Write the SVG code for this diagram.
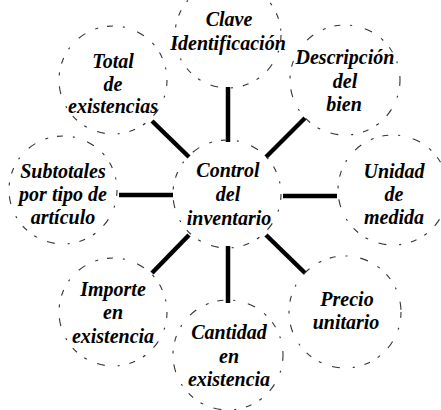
<svg xmlns="http://www.w3.org/2000/svg" width="441" height="410" viewBox="0 0 441 410">
<style>
.n{fill:none;stroke:#333;stroke-width:1.1;stroke-dasharray:6 10 2 13 8 11 3 9}
.t{font-family:"Liberation Serif","Times New Roman",serif;font-style:italic;font-weight:bold;font-size:20px;fill:#000;text-anchor:middle}
.c line{stroke:#000;stroke-width:4.5}
</style>
<rect width="441" height="410" fill="#fff"/>
<g class="c" id="connectors">
<line x1="228" y1="87" x2="228" y2="142"/>
<line x1="305" y1="118" x2="266" y2="157"/>
<line x1="152" y1="121" x2="189" y2="157"/>
<line x1="119" y1="195" x2="173" y2="195"/>
<line x1="283" y1="196" x2="337" y2="196"/>
<line x1="266" y1="235" x2="305" y2="273"/>
<line x1="189" y1="235" x2="152" y2="273"/>
<line x1="228" y1="246" x2="228" y2="303"/>
</g>
<g id="center"><circle class="n" cx="227" cy="194" r="54"/>
<text class="t" x="228" y="177">Control</text><text class="t" x="228" y="201">del</text><text class="t" x="229" y="225">inventario</text></g>
<g id="clave"><circle class="n" cx="228" cy="35" r="53"/>
<text class="t" x="229" y="26">Clave</text><text class="t" x="228" y="50">Identificación</text></g>
<g id="descripcion"><circle class="n" cx="345" cy="80" r="55"/>
<text class="t" x="345" y="64">Descripción</text><text class="t" x="345" y="88">del</text><text class="t" x="344" y="111">bien</text></g>
<g id="total"><circle class="n" cx="113" cy="80" r="54"/>
<text class="t" x="113" y="68">Total</text><text class="t" x="113" y="91">de</text><text class="t" x="113" y="113">existencias</text></g>
<g id="subtotales"><circle class="n" cx="63" cy="190" r="54"/>
<text class="t" x="63" y="178">Subtotales</text><text class="t" x="63" y="201">por tipo de</text><text class="t" x="63" y="224">artículo</text></g>
<g id="unidad"><circle class="n" cx="393" cy="190" r="55"/>
<text class="t" x="394" y="178">Unidad</text><text class="t" x="394" y="201">de</text><text class="t" x="394" y="224">medida</text></g>
<g id="precio"><circle class="n" cx="345" cy="312" r="56"/>
<text class="t" x="347" y="306">Precio</text><text class="t" x="346" y="329">unitario</text></g>
<g id="cantidad"><circle class="n" cx="228" cy="355" r="55"/>
<text class="t" x="229" y="339">Cantidad</text><text class="t" x="229" y="363">en</text><text class="t" x="229" y="386">existencia</text></g>
<g id="importe"><circle class="n" cx="113" cy="312" r="54"/>
<text class="t" x="113" y="296">Importe</text><text class="t" x="113" y="319">en</text><text class="t" x="113" y="343">existencia</text></g>
</svg>
